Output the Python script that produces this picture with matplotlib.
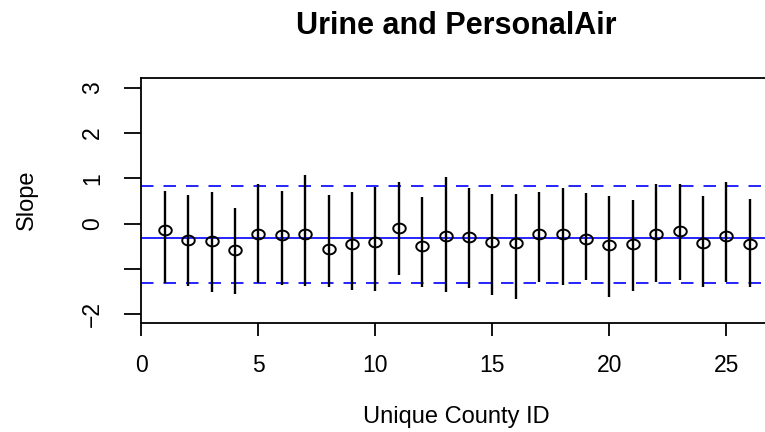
import numpy as np
import matplotlib
matplotlib.use("Agg")
import matplotlib.pyplot as plt
from matplotlib.path import Path

plt.rcParams['font.family'] = ['Liberation Sans', 'DejaVu Sans']

title = "Urine and PersonalAir"
xlabel = "Unique County ID"
ylabel = "Slope"

county_id = list(range(1, 27))
slope = [-0.15, -0.37, -0.39, -0.59, -0.24, -0.26, -0.23, -0.56, -0.44, -0.41,
         -0.10, -0.50, -0.28, -0.30, -0.41, -0.43, -0.24, -0.23, -0.34, -0.47,
         -0.46, -0.24, -0.16, -0.42, -0.27, -0.46]
upper = [0.72, 0.63, 0.69, 0.35, 0.88, 0.72, 1.07, 0.63, 0.69, 0.81,
         0.91, 0.59, 1.02, 0.79, 0.66, 0.65, 0.70, 0.79, 0.68, 0.61,
         0.52, 0.88, 0.87, 0.61, 0.91, 0.55]
lower = [-1.31, -1.37, -1.51, -1.55, -1.31, -1.35, -1.37, -1.39, -1.46, -1.49,
         -1.14, -1.40, -1.51, -1.42, -1.57, -1.67, -1.29, -1.35, -1.25, -1.61,
         -1.48, -1.29, -1.24, -1.39, -1.29, -1.39]
mean_line = -0.31
band = [-1.31, 0.83]

xticks = [0, 5, 10, 15, 20, 25]
yticks = [-2, -1, 0, 1, 2, 3]
yticklabels = ['\u22122', '', '0', '1', '2', '3']

fig = plt.figure(figsize=(7.65, 4.32), dpi=100)
ax = fig.add_axes([0.1847, 0.2516, 0.826, 0.5667])
ax.set_xlim(0, 27)
ax.set_ylim(-2.2, 3.2)

# ellipse marker (reference is horizontally stretched)
t = np.linspace(0, 2 * np.pi, 60)
ell = Path(np.column_stack([np.cos(t), 0.78 * np.sin(t)]), closed=True)

ax.axhline(mean_line, color='#0000FF', lw=1.2, zorder=1)
for b in band:
    ax.axhline(b, color='#0000FF', lw=1.2, dashes=(7.5, 6), zorder=1)

ax.plot(county_id, slope, linestyle='none', marker=ell, markersize=9,
        markerfacecolor='none', markeredgecolor='black', markeredgewidth=1.4, zorder=2)
ax.vlines(county_id, lower, upper, color='black', lw=1.7, zorder=3)

for s in ax.spines.values():
    s.set_linewidth(1.3)

ax.set_xticks(xticks)
ax.set_yticks(yticks)
ax.set_yticklabels(yticklabels, rotation=90, va='center')
ax.tick_params(axis='x', length=9.5, width=1.3, pad=12.5, labelsize=16.5)
ax.tick_params(axis='y', length=12, width=1.3, pad=15, labelsize=16.5)

fig.text(0.597, 0.035, xlabel, ha='center', va='center', fontsize=17)
fig.text(0.035, 0.537, ylabel, ha='center', va='center', rotation=90, fontsize=17)
fig.text(0.597, 0.94, title, ha='center', va='center', fontsize=22, fontweight='bold')

fig.savefig("out.png", dpi=100)
